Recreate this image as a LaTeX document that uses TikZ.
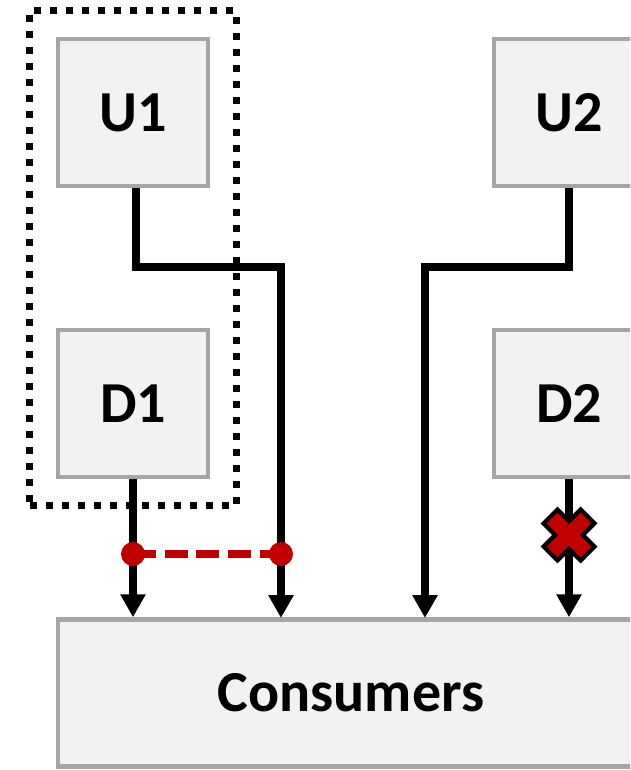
\documentclass[tikz,border=0pt]{standalone}
\usepackage{fontspec}
\setsansfont{Carlito}
\usepackage{xcolor}
\usetikzlibrary{arrows.meta, positioning, fit}

\definecolor{boxgray}{HTML}{A6A6A6}
\definecolor{boxfill}{HTML}{F2F2F2}
\definecolor{linkred}{HTML}{C00000}

\begin{document}
\begin{tikzpicture}[
  x=1pt, y=-1pt,
  unit/.style={rectangle, draw=boxgray, fill=boxfill, line width=4.5pt, minimum width=150pt, minimum height=147pt, font=\fontsize{58}{62}\selectfont\sffamily\bfseries},
  flow/.style={line width=8pt, -{Triangle[width=24pt, length=23pt]}},
  group/.style={draw, line width=7pt, dash pattern=on 7pt off 9pt, inner sep=26pt},
  redlink/.style={linkred, line width=8.5pt, dash pattern=on 23pt off 8.7pt}
]
\useasboundingbox (0,0) rectangle (630,770);
\clip (0,0) rectangle (630,770);

% units
\node[unit] (u1) at (133,112.5) {U1};
\node[unit] (d1) at (133,403.5) {D1};
\node[unit] (u2) at (569,112.5) {U2};
\node[unit] (d2) at (569,403.5) {D2};
\node[unit, minimum width=586pt] (cons) at (351,693) {Consumers};

% dotted group round U1 and D1
\node[group, fit=(u1)(d1)] (g1) {};

% inputs of the consumers
\coordinate (in2) at (281,618);
\coordinate (in3) at (425,618);

% connectors
\draw[flow] ([xshift=3pt]u1.south) -- ++(0,79) -| (in2);
\draw[flow] (u2.south) -- ++(0,79) -| (in3);
\draw[flow] (d1.south) -- (d1.south |- cons.north);
\draw[flow] (d2.south) -- (d2.south |- cons.north);

% red link between D1 and U1 paths
\coordinate (la) at (133,554);
\coordinate (lb) at (281,554);
\draw[redlink] (la) -- (lb);
\fill[linkred] (la) circle (12pt) (lb) circle (12pt);

% cut mark on D2
\coordinate (cut) at (569,535);
\draw[line width=24pt] ([shift={(-20,-20)}]cut) -- ([shift={(20,20)}]cut)
  ([shift={(-20,20)}]cut) -- ([shift={(20,-20)}]cut);
\draw[linkred, line width=15pt] ([shift={(-17,-17)}]cut) -- ([shift={(17,17)}]cut)
  ([shift={(-17,17)}]cut) -- ([shift={(17,-17)}]cut);

\end{tikzpicture}
\end{document}
